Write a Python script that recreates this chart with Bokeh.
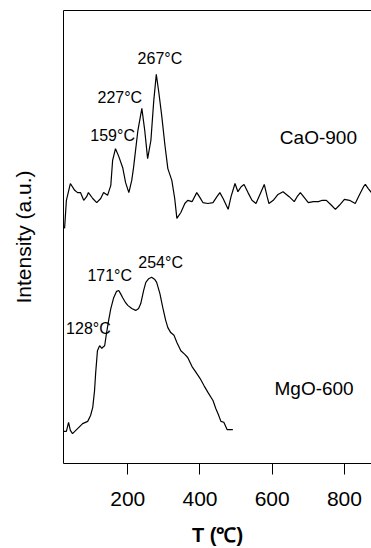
from bokeh.plotting import figure
from bokeh.models import Range1d, FixedTicker, Label, LinearAxis
from bokeh.embed import file_html
from bokeh.resources import INLINE

# ---- data ----
cao_T = [25, 30, 41, 53, 61, 69, 78, 86, 91, 103, 114, 125, 133, 144, 153, 158, 166, 175, 186, 194,
         203, 211, 216, 228, 239, 247, 255, 264, 272, 279, 286, 294, 303, 311, 322, 330, 336, 347,
         358, 366, 378, 391, 400, 408, 422, 436, 447, 455, 464, 478, 486, 497, 505, 514, 522, 533,
         544, 555, 566, 578, 586, 591, 603, 616, 630, 647, 661, 669, 678, 689, 700, 714, 728, 739,
         750, 764, 775, 786, 800, 814, 830, 841, 853, 858, 866, 875]
cao_I = [51.9, 58.1, 61.8, 60.3, 59.8, 59.8, 58.1, 58.9, 59.8, 58.5, 57.6, 58.5, 59.8, 59.2, 61.4,
         66.9, 69.5, 67.8, 65.3, 62.0, 59.8, 62.5, 65.3, 73.5, 78.4, 73.5, 67.3, 71.3, 80.1, 85.9,
         81.9, 76.8, 70.2, 65.1, 62.5, 58.5, 54.1, 55.4, 57.4, 58.1, 57.8, 59.8, 58.7, 57.6, 57.4,
         57.6, 58.9, 59.8, 58.5, 56.1, 58.9, 61.8, 60.0, 61.1, 61.6, 59.8, 58.1, 57.4, 59.4, 61.6,
         58.9, 57.4, 58.1, 59.4, 60.0, 58.9, 57.8, 58.9, 59.8, 58.7, 57.6, 57.8, 57.8, 58.1, 58.1,
         57.0, 56.1, 57.0, 58.3, 58.1, 57.4, 59.2, 61.1, 61.6, 60.7, 59.8]

mgo_T = [22, 30, 36, 41, 47, 61, 75, 89, 97, 103, 108, 111, 116, 122, 128, 130, 136, 141, 147, 153,
         161, 169, 175, 180, 186, 194, 200, 211, 222, 230, 236, 244, 250, 258, 266, 275, 280, 289,
         297, 305, 311, 319, 328, 336, 347, 358, 366, 378, 389, 400, 411, 422, 436, 444, 450, 458,
         466, 475, 491]
mgo_I = [7.1, 7.1, 9.1, 7.3, 6.6, 7.7, 8.8, 9.3, 10.6, 12.4, 16.1, 19.9, 24.9, 26.0, 25.4, 25.6,
         26.0, 28.7, 31.6, 34.2, 36.6, 38.0, 38.2, 37.5, 36.6, 35.5, 34.9, 34.2, 33.8, 34.2, 35.3,
         38.2, 40.0, 40.8, 41.1, 40.6, 40.0, 37.5, 34.4, 31.6, 30.0, 28.9, 28.3, 26.7, 24.9, 24.1,
         23.4, 21.4, 20.1, 18.8, 17.2, 15.7, 13.9, 12.1, 11.0, 9.3, 9.1, 7.5, 7.5]

x_ticks = [200, 400, 600, 800]

peak_labels = ["267°C", "227°C", "159°C", "254°C", "171°C", "128°C"]
series_labels = ["CaO-900", "MgO-600"]

# annotation placements (data units)
peak_label_pos = [(289, 89.4), (178, 80.8), (158, 72.4), (291, 44.4), (150, 41.5), (91, 29.8)]
series_label_pos = [(728, 72.0), (716, 16.6)]

FONT = "Liberation Sans"

p = figure(width=371, height=548, output_backend="svg", toolbar_location=None,
           x_range=Range1d(22, 875), y_range=Range1d(0, 100),
           min_border_left=63, min_border_right=0, min_border_top=10, min_border_bottom=85)

p.line(cao_T, cao_I, line_color="black", line_width=1.2)
p.line(mgo_T, mgo_I, line_color="black", line_width=1.2)

p.grid.visible = False
p.outline_line_color = None
p.background_fill_color = "white"
p.border_fill_color = "white"

xa = p.below[0]
xa.ticker = FixedTicker(ticks=x_ticks)
xa.minor_tick_line_color = None
xa.major_tick_in = 0
xa.major_tick_out = 11
xa.major_tick_line_color = "black"
xa.axis_line_color = "black"
xa.major_label_text_font = FONT
xa.major_label_text_font_size = "21px"
xa.major_label_text_color = "black"
xa.major_label_standoff = 17
xa.axis_label = "T (℃)"
xa.axis_label_text_font = FONT
xa.axis_label_text_font_size = "20px"
xa.axis_label_text_font_style = "bold"
xa.axis_label_text_color = "black"
xa.axis_label_standoff = 15

ya = p.left[0]
ya.ticker = FixedTicker(ticks=[])
ya.minor_tick_line_color = None
ya.major_tick_in = 0
ya.major_tick_out = 0
ya.major_label_text_font_size = "0px"
ya.axis_line_color = "black"
ya.axis_label = "Intensity (a.u.)"
ya.axis_label_text_font = FONT
ya.axis_label_text_font_size = "21px"
ya.axis_label_text_font_style = "normal"
ya.axis_label_text_color = "black"
ya.axis_label_standoff = 29

top = LinearAxis(ticker=FixedTicker(ticks=[]), major_label_text_font_size="0px",
                 major_tick_in=0, major_tick_out=0, minor_tick_line_color=None,
                 axis_line_color="black")
p.add_layout(top, "above")

for txt, (x, y) in zip(peak_labels, peak_label_pos):
    p.add_layout(Label(x=x, y=y, text=txt, text_font=FONT, text_font_size="16px",
                       text_align="center", text_baseline="middle", text_color="black"))
for txt, (x, y) in zip(series_labels, series_label_pos):
    p.add_layout(Label(x=x, y=y, text=txt, text_font=FONT, text_font_size="19px",
                       text_align="center", text_baseline="middle", text_color="black"))

open("out.html", "w").write(file_html(p, INLINE))
